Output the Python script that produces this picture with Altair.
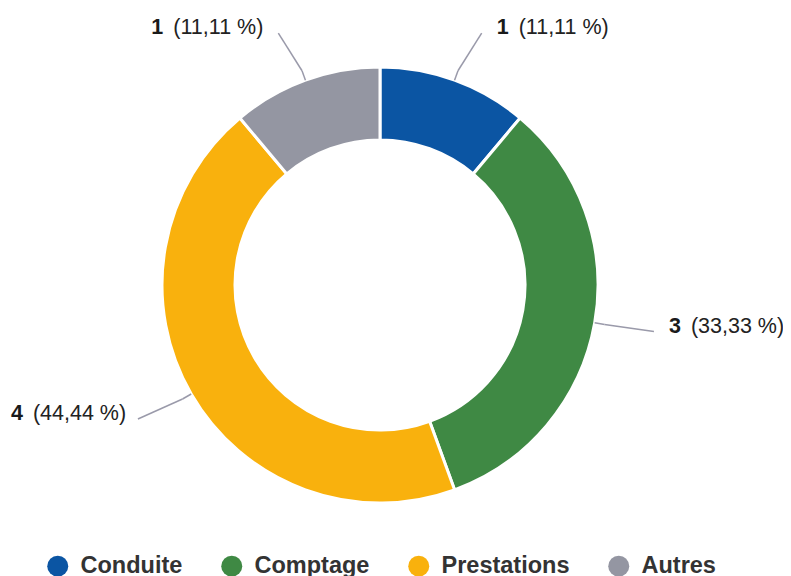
import altair as alt
import pandas as pd

categories = ["Conduite", "Comptage", "Prestations", "Autres"]
counts = [1, 3, 4, 1]
pct_labels = ["(11,11 %)", "(33,33 %)", "(44,44 %)", "(11,11 %)"]
colors = ["#0b55a3", "#3f8944", "#f9b10d", "#9496a2"]

df = pd.DataFrame({
    "cat": categories,
    "n": counts,
    "num": [str(v) for v in counts],
    "pct": pct_labels,
    "idx": list(range(len(categories))),
})

W, H = 744, 554
R_OUT, R_IN = 218, 145
R_ELB, R_END, H_OFF = 228, 268, 10
FONT = "Liberation Sans"

xs = alt.Scale(domain=[-W / 2, W / 2], nice=False, zero=False)
ys = alt.Scale(domain=[-H / 2, H / 2], nice=False, zero=False)

base = alt.Chart(df)

color = alt.Color(
    "cat:N",
    scale=alt.Scale(domain=categories, range=colors),
    sort=categories,
    legend=alt.Legend(
        orient="none", legendX=38, legendY=546, direction="horizontal",
        title=None, symbolType="circle", symbolSize=441, symbolStrokeWidth=0,
        symbolOpacity=1, labelFont=FONT, labelFontSize=23.5, labelFontWeight="bold",
        labelColor="#333333", columnPadding=37, labelOffset=11,
    ),
)

arcs = base.mark_arc(outerRadius=R_OUT, innerRadius=R_IN, stroke="white", strokeWidth=3).encode(
    theta=alt.Theta("n:Q", stack=True),
    order=alt.Order("idx:Q"),
    color=color,
)

geo = base.transform_window(
    cum="sum(n)", sort=[alt.SortField("idx")], frame=[None, 0]
).transform_joinaggregate(
    total="sum(n)"
).transform_calculate(
    a="2*PI*(datum.cum - datum.n/2)/datum.total"
).transform_calculate(
    s="sin(datum.a)", c="cos(datum.a)"
).transform_calculate(
    side="datum.s >= 0 ? 1 : -1",
    x0=f"{R_OUT}*datum.s", y0=f"{R_OUT}*datum.c",
    x1=f"{R_ELB}*datum.s", y1=f"{R_ELB}*datum.c",
).transform_calculate(
    xe=f"{R_END}*datum.s + {H_OFF}*datum.side", ye=f"{R_END}*datum.c",
).transform_calculate(
    xn="datum.side > 0 ? datum.xe + 15 : datum.xe - 127",
    xp="datum.side > 0 ? datum.xe + 37 : datum.xe - 105",
)

rule1 = geo.mark_rule(color="#9a9aaa", strokeWidth=1.5).encode(
    x=alt.X("x0:Q", scale=xs, axis=None), y=alt.Y("y0:Q", scale=ys, axis=None),
    x2="x1:Q", y2="y1:Q",
)
rule2 = geo.mark_rule(color="#9a9aaa", strokeWidth=1.5).encode(
    x=alt.X("x1:Q", scale=xs, axis=None), y=alt.Y("y1:Q", scale=ys, axis=None),
    x2="xe:Q", y2="ye:Q",
)
num_text = geo.mark_text(
    font=FONT, fontSize=21.5, fontWeight="bold", color="#1a1a1a",
    align="left", baseline="alphabetic", dy=1,
).encode(
    x=alt.X("xn:Q", scale=xs, axis=None), y=alt.Y("ye:Q", scale=ys, axis=None),
    text="num:N",
)
pct_text = geo.mark_text(
    font=FONT, fontSize=21.5, color="#222222",
    align="left", baseline="alphabetic", dy=1,
).encode(
    x=alt.X("xp:Q", scale=xs, axis=None), y=alt.Y("ye:Q", scale=ys, axis=None),
    text="pct:N",
)

chart = alt.layer(arcs, rule1, rule2, num_text, pct_text).properties(
    width=W, height=H,
    autosize=alt.AutoSizeParams(type="none"),
    padding={"left": 0, "top": 0, "right": 31, "bottom": 30},
).configure_view(strokeWidth=0)

chart.save("out.html", embed_options={"renderer": "svg", "actions": False})
